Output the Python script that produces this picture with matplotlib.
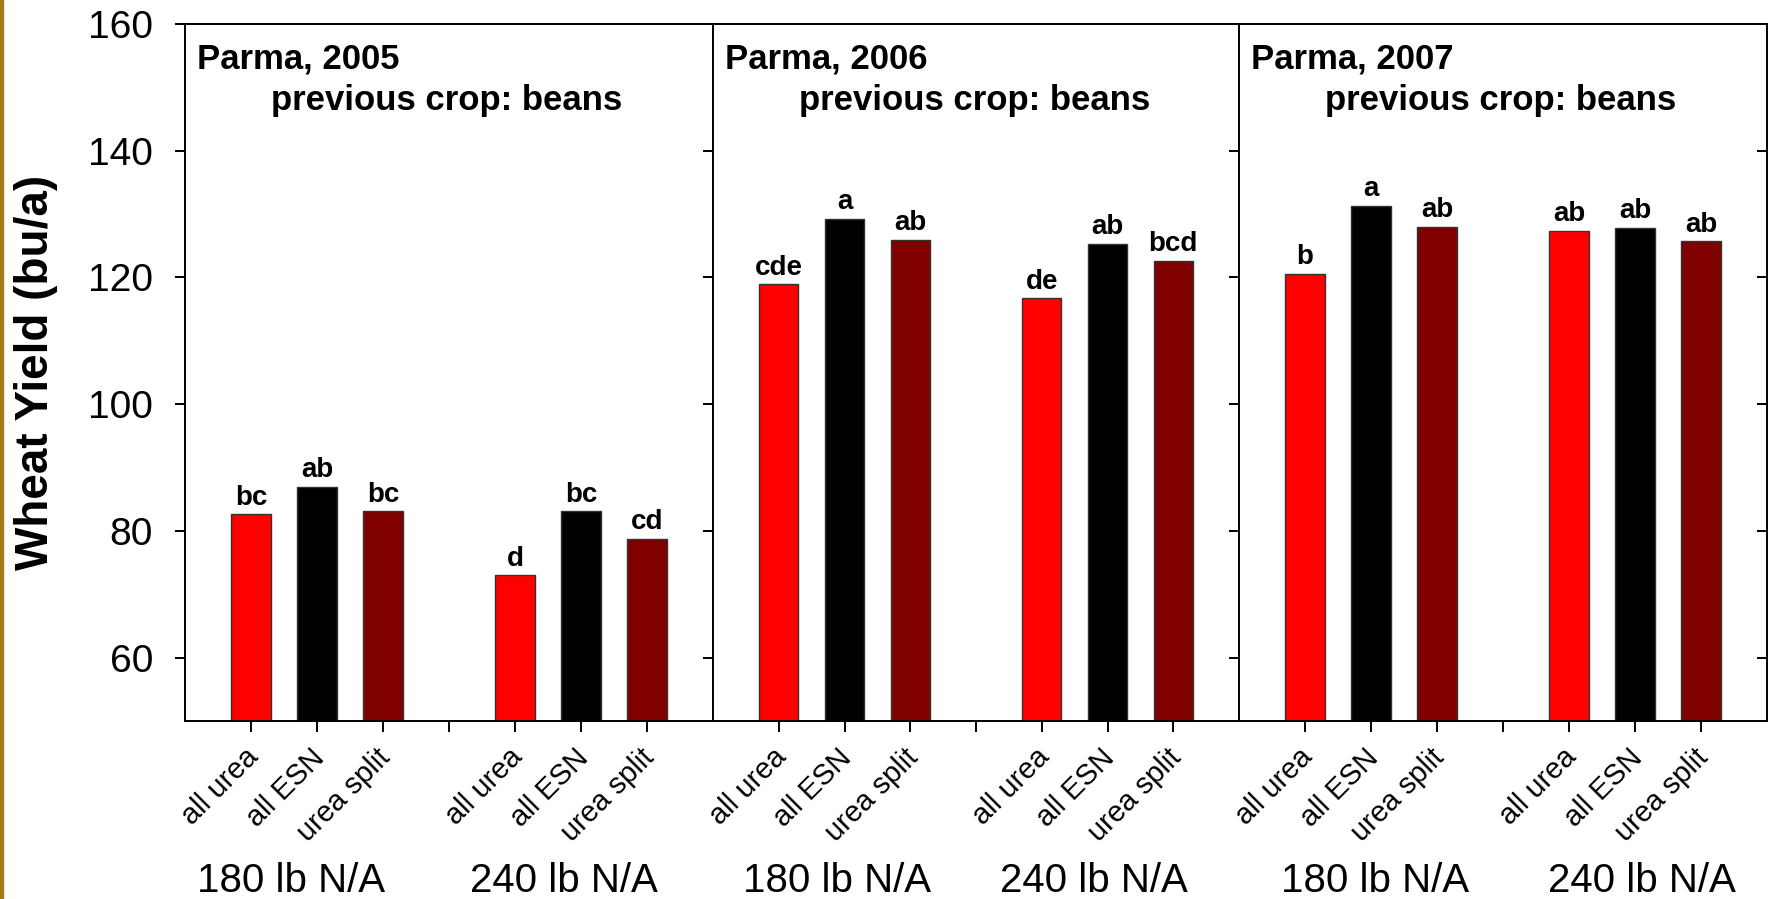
#!/usr/bin/env python3
"""Wheat yield by N source and rate, Parma 2005-2007 (previous crop: beans)."""

import matplotlib

matplotlib.use("Agg")
import matplotlib.pyplot as plt
from matplotlib.lines import TICKLEFT
from matplotlib.patches import Rectangle
from matplotlib.transforms import ScaledTranslation

plt.rcParams["font.family"] = ["Liberation Sans", "DejaVu Sans"]

# data
SITES = ["Parma, 2005", "Parma, 2006", "Parma, 2007"]
PREV_CROP = "previous crop: beans"
RATES = ["180 lb N/A", "240 lb N/A"]
SOURCES = ["all urea", "all ESN", "urea split"]
SOURCE_COLORS = ["#ff0000", "#000000", "#800000"]

YIELD_2005 = [82.6, 87.0, 83.1, 73.0, 83.1, 78.8]
YIELD_2006 = [118.9, 129.3, 125.9, 116.7, 125.3, 122.6]
YIELD_2007 = [120.6, 131.3, 128.0, 127.3, 127.8, 125.7]

LETTERS_2005 = ["bc", "ab", "bc", "d", "bc", "cd"]
LETTERS_2006 = ["cde", "a", "ab", "de", "ab", "bcd"]
LETTERS_2007 = ["b", "a", "ab", "ab", "ab", "ab"]

YIELDS = [YIELD_2005, YIELD_2006, YIELD_2007]
LETTERS = [LETTERS_2005, LETTERS_2006, LETTERS_2007]

# layout (pixels of the 1775x899 output)
W, H = 1775, 899
PANEL_X = [(185, 713), (713, 1239), (1239, 1767)]
TOP, BOTTOM = 24, 721
RATE_SHIFT = [(-0.40, -0.26), (-0.12, -0.21), (0.06, 0.10)]


def main() -> None:
    fig = plt.figure(figsize=(W / 100, H / 100), dpi=100)
    fig.patches.append(
        Rectangle((0, 0), 2.5 / W, 1, transform=fig.transFigure, color="#a27a16", zorder=5)
    )

    positions = [0, 1, 2, 4, 5, 6]
    colors = SOURCE_COLORS * 2

    for i, (x0, x1) in enumerate(PANEL_X):
        ax = fig.add_axes([x0 / W, 1 - BOTTOM / H, (x1 - x0) / W, (BOTTOM - TOP) / H])
        ax.bar(positions, YIELDS[i], width=0.6, color=colors, edgecolor="#333333",
               linewidth=1.0, zorder=2)
        for x, y, lab in zip(positions, YIELDS[i], LETTERS[i]):
            ax.annotate(lab, (x, y), xytext=(0, 7), textcoords="offset points",
                        ha="center", va="baseline", fontsize=20, fontweight="bold")

        ax.set_xlim(-1, 7)
        ax.set_ylim(50, 160)
        ax.set_yticks(range(60, 161, 20))
        for sp in ax.spines.values():
            sp.set_linewidth(1.4)

        # left ticks out (first panel only), right ticks pointing inward
        ax.tick_params(axis="y", left=(i == 0), right=True, labelleft=(i == 0),
                       labelright=False, width=1.4, labelsize=28, pad=16,
                       direction="out", length=7)
        for tick in ax.yaxis.get_major_ticks():
            tick.tick2line.set_marker(TICKLEFT)
            tick.tick2line.set_markersize(7)

        ax.set_xticks(range(0, 7))
        ax.set_xticklabels(SOURCES + [""] + SOURCES, rotation=45, ha="right", fontsize=21)
        ax.tick_params(axis="x", direction="out", length=8, width=1.4, pad=8)
        shift = ScaledTranslation(13 / 100, 0, fig.dpi_scale_trans)
        for lab in ax.get_xticklabels():
            lab.set_transform(lab.get_transform() + shift)

        ax.text(12 / (x1 - x0), 1 - 44 / (BOTTOM - TOP), SITES[i], transform=ax.transAxes,
                ha="left", va="baseline", fontsize=25, fontweight="bold")
        ax.text(86 / (x1 - x0), 1 - 86 / (BOTTOM - TOP), PREV_CROP, transform=ax.transAxes,
                ha="left", va="baseline", fontsize=25, fontweight="bold")

        for g, rate in enumerate(RATES):
            ax.annotate(rate, (1 + 4 * g + RATE_SHIFT[i][g], 7),
                        xycoords=("data", "figure pixels"), ha="center", va="baseline",
                        fontsize=29, annotation_clip=False)

    fig.text(36 / W, 1 - 372 / H, "Wheat Yield (bu/a)", rotation=90, ha="center",
             va="center", fontsize=33, fontweight="bold")

    fig.savefig("out.png", dpi=100)
    plt.close(fig)


if __name__ == "__main__":
    main()
